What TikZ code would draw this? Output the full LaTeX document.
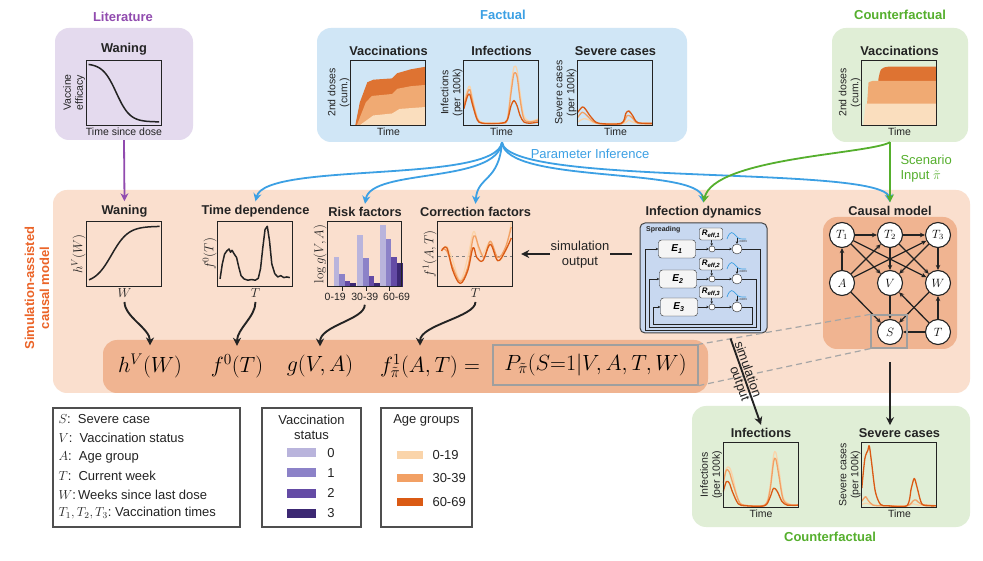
\RequirePackage{fix-cm}
\documentclass[tikz,border=0pt]{standalone}
\usepackage[no-math]{fontspec}
\setmainfont{Liberation Sans}
\usepackage{amsmath}
\usetikzlibrary{arrows.meta,positioning}

\definecolor{inkgray}{RGB}{35,35,35}
\definecolor{litbg}{RGB}{228,218,238}
\definecolor{factbg}{RGB}{208,230,246}
\definecolor{cfbg}{RGB}{224,238,214}
\definecolor{simbg}{RGB}{250,223,206}
\definecolor{simdark}{RGB}{240,180,145}
\definecolor{dynbg}{RGB}{200,216,240}
\definecolor{litcol}{RGB}{145,75,175}
\definecolor{factcol}{RGB}{60,160,228}
\definecolor{cfcol}{RGB}{85,175,45}
\definecolor{simcol}{RGB}{235,100,40}
\definecolor{ageA}{RGB}{250,212,170}
\definecolor{ageB}{RGB}{242,160,100}
\definecolor{ageC}{RGB}{218,90,20}
\definecolor{vacA}{RGB}{185,180,220}
\definecolor{vacB}{RGB}{140,130,200}
\definecolor{vacC}{RGB}{100,75,165}
\definecolor{vacD}{RGB}{60,40,115}
\definecolor{areaA}{RGB}{250,222,190}
\definecolor{areaB}{RGB}{240,170,115}
\definecolor{areaC}{RGB}{222,115,50}

\begin{document}
\begin{tikzpicture}[x=1pt, y=1pt,
  panel/.style={rounded corners=14pt, inner sep=0pt},
  grouplab/.style={font=\bfseries\fontsize{13}{15}\selectfont},
  title/.style={font=\bfseries\fontsize{12.8}{15}\selectfont, text=inkgray},
  axlab/.style={font=\fontsize{10.5}{12}\selectfont, align=center, inner sep=1pt, text=inkgray},
  mathlab/.style={font=\fontsize{13}{15}\selectfont, inner sep=1pt, text=inkgray},
  plotbox/.style={minimum width=75pt, minimum height=65pt, inner sep=0pt},
  plotframe/.style={draw=inkgray, line width=1.2pt},
  curve/.style={line width=1.5pt, line join=round, inkgray},
  ocurve/.style={line width=1.3pt, line join=round},
  term/.style={font=\fontsize{22}{26}\selectfont},
  fan/.style={line width=1.8pt, -{Stealth[length=8pt,width=8pt]}},
  feed/.style={line width=1.9pt, inkgray, -{Stealth[length=8pt,width=8pt]}},
  formarrow/.style={feed, shorten >=5pt, shorten <=3pt},
  cnode/.style={circle, draw=inkgray, fill=white, line width=1.1pt, minimum size=25pt, inner sep=0pt, font=\fontsize{12}{12}\selectfont},
  cedge/.style={line width=1.3pt, inkgray, -{Stealth[length=5pt,width=4.5pt]}},
  legbox/.style={draw=inkgray!80, line width=1.1pt, inner sep=0pt},
  legtext/.style={font=\fontsize{13}{15}\selectfont, text=inkgray},
  swatch/.style={inner sep=0pt},
  ebox/.style={draw=inkgray, fill=gray!8, rounded corners=3pt, minimum width=37pt, minimum height=18pt, inner sep=0pt, font=\bfseries\itshape\fontsize{10}{10}\selectfont},
  rbox/.style={draw=inkgray, fill=gray!8, rounded corners=2pt, minimum width=23pt, minimum height=12pt, inner sep=0pt, font=\bfseries\itshape\fontsize{8}{8}\selectfont},
  mulnode/.style={circle, draw=inkgray, fill=white, minimum size=6pt, inner sep=0pt},
  convnode/.style={circle, draw=inkgray, fill=white, minimum size=10pt, inner sep=0pt},
  flow/.style={line width=0.6pt, inkgray, -{Stealth[length=2.5pt,width=2.5pt]}}]

\useasboundingbox (0,0) rectangle (983,560);
\fill[white] (0,0) rectangle (983,560);

% backgrounds
\node[panel, fill=litbg, minimum width=138pt, minimum height=112pt] (litbox) at (124,476) {};
\node[panel, fill=factbg, minimum width=370pt, minimum height=114pt] (factbox) at (502,475) {};
\node[panel, fill=cfbg, minimum width=136pt, minimum height=114pt] (cfbox) at (900,475) {};
\node[panel, fill=simbg, minimum width=917pt, minimum height=203pt] (simbox) at (511.5,268.5) {};
\node[panel, fill=simdark, minimum width=605pt, minimum height=53pt] (band) at (405.5,193.5) {};
\node[panel, fill=cfbg, minimum width=278pt, minimum height=121pt] (cfbot) at (831,93.5) {};

\node[grouplab, text=litcol] (litlab) at (123,543) {Literature};
\node[grouplab, text=factcol] (factlab) at (503,545) {Factual};
\node[grouplab, text=cfcol] (cflab) at (900,545) {Counterfactual};
\node[grouplab, text=cfcol] (cfbotlab) at (830,23) {Counterfactual};
\node[grouplab, text=simcol, rotate=90, align=center] (simlab) at (37,272) {Simulation-assisted\\causal model};

% literature
\node[plotbox] (litplot) at (124,467.5) {};
\node[title, above=1pt of litplot] (littitle) {Waning};
\node[axlab, below=1pt of litplot] (litx) {Time since dose};
\node[axlab, rotate=90, anchor=south] (lity) at (litplot.west) {Vaccine\\efficacy};
\begin{scope}[shift={(litplot.south west)}, x=75pt, y=65pt]
  \draw[curve] plot[domain=0.03:0.97, samples=40, smooth] (\x,{0.05+0.9/(1+exp(11*(\x-0.4)))});
  \draw[plotframe] (0,0) rectangle (1,1);
\end{scope}

% factual
\node[plotbox] (vacFplot) at (388.5,467.5) {};
\node[title, above=1pt of vacFplot] (vacFtitle) {Vaccinations};
\node[axlab, below=1pt of vacFplot] (vacFx) {Time};
\node[axlab, rotate=90, anchor=south] (vacFy) at (vacFplot.west) {2nd doses\\(cum.)};
\begin{scope}[shift={(vacFplot.south west)}, x=75pt, y=65pt]
  \fill[areaC] (0.06,0) -- (0.12,0.35) -- (0.22,0.66) -- (0.3,0.7) -- (0.55,0.72) -- (0.62,0.8) -- (0.8,0.86) -- (1,0.9) -- (1,0) -- cycle;
  \fill[areaB] (0.08,0) -- (0.2,0.35) -- (0.28,0.45) -- (0.55,0.48) -- (0.62,0.56) -- (0.8,0.6) -- (1,0.62) -- (1,0) -- cycle;
  \fill[areaA] (0.12,0) -- (0.3,0.15) -- (0.55,0.18) -- (0.65,0.25) -- (1,0.28) -- (1,0) -- cycle;
  \draw[plotframe] (0,0) rectangle (1,1);
\end{scope}

\node[plotbox] (infFplot) at (501.5,467.5) {};
\node[title, above=1pt of infFplot] (infFtitle) {Infections};
\node[axlab, below=1pt of infFplot] (infFx) {Time};
\node[axlab, rotate=90, anchor=south] (infFy) at (infFplot.west) {Infections\\(per 100k)};
\begin{scope}[shift={(infFplot.south west)}, x=75pt, y=65pt]
  \draw[ocurve, ageA] plot[smooth, tension=0.5] coordinates {(0,0.35) (0.05,0.55) (0.08,0.6) (0.12,0.4) (0.18,0.12) (0.25,0.04) (0.5,0.04) (0.58,0.1) (0.63,0.6) (0.67,0.9) (0.71,0.85) (0.75,0.5) (0.8,0.15) (0.88,0.06) (1,0.1)};
  \draw[ocurve, ageB] plot[smooth, tension=0.5] coordinates {(0,0.3) (0.05,0.5) (0.08,0.55) (0.12,0.35) (0.18,0.1) (0.25,0.03) (0.5,0.03) (0.58,0.08) (0.63,0.5) (0.67,0.8) (0.71,0.75) (0.75,0.4) (0.8,0.1) (0.88,0.05) (1,0.08)};
  \draw[ocurve, ageC] plot[smooth, tension=0.5] coordinates {(0,0.25) (0.05,0.45) (0.08,0.47) (0.12,0.3) (0.18,0.08) (0.25,0.03) (0.5,0.03) (0.58,0.08) (0.63,0.3) (0.67,0.38) (0.71,0.3) (0.75,0.15) (0.8,0.05) (0.88,0.03) (1,0.05)};
  \draw[plotframe] (0,0) rectangle (1,1);
\end{scope}

\node[plotbox] (sevFplot) at (615.5,467.5) {};
\node[title, above=1pt of sevFplot] (sevFtitle) {Severe cases};
\node[axlab, below=1pt of sevFplot] (sevFx) {Time};
\node[axlab, rotate=90, anchor=south] (sevFy) at (sevFplot.west) {Severe cases\\(per 100k)};
\begin{scope}[shift={(sevFplot.south west)}, x=75pt, y=65pt]
  \draw[ocurve, ageA] plot[smooth, tension=0.5] coordinates {(0,0.05) (0.08,0.1) (0.15,0.08) (0.25,0.03) (0.6,0.03) (0.68,0.08) (0.75,0.04) (1,0.03)};
  \draw[ocurve, ageB] plot[smooth, tension=0.5] coordinates {(0,0.12) (0.06,0.2) (0.12,0.15) (0.2,0.06) (0.3,0.02) (0.58,0.02) (0.66,0.15) (0.72,0.12) (0.8,0.03) (1,0.02)};
  \draw[ocurve, ageC] plot[smooth, tension=0.5] coordinates {(0,0.2) (0.06,0.28) (0.1,0.25) (0.18,0.12) (0.28,0.03) (0.58,0.03) (0.64,0.18) (0.68,0.22) (0.73,0.15) (0.8,0.04) (1,0.03)};
  \draw[plotframe] (0,0) rectangle (1,1);
\end{scope}

% counterfactual input
\node[plotbox] (vacCplot) at (899.5,467.5) {};
\node[title, above=1pt of vacCplot] (vacCtitle) {Vaccinations};
\node[axlab, below=1pt of vacCplot] (vacCx) {Time};
\node[axlab, rotate=90, anchor=south] (vacCy) at (vacCplot.west) {2nd doses\\(cum.)};
\begin{scope}[shift={(vacCplot.south west)}, x=75pt, y=65pt]
  \fill[areaC] (0.2,0) -- (0.22,0.7) .. controls (0.25,0.88) .. (0.35,0.9) -- (1,0.9) -- (1,0) -- cycle;
  \fill[areaB] (0.05,0) -- (0.09,0.66) -- (0.14,0.68) -- (1,0.68) -- (1,0) -- cycle;
  \fill[areaA] (0.02,0) -- (0.05,0.33) -- (1,0.33) -- (1,0) -- cycle;
  \draw[plotframe] (0,0) rectangle (1,1);
\end{scope}

% model panels
\node[plotbox] (waneplot) at (124.5,306) {};
\node[title, above=1pt of waneplot] (wanetitle) {Waning};
\node[mathlab, below=1pt of waneplot] (wlab) {$W$};
\node[mathlab, rotate=90, anchor=south] (waney) at (waneplot.west) {$h^V(W)$};
\begin{scope}[shift={(waneplot.south west)}, x=75pt, y=65pt]
  \draw[curve] plot[domain=0.03:0.97, samples=40, smooth] (\x,{0.05+0.88/(1+exp(-9*(\x-0.33)))});
  \draw[plotframe] (0,0) rectangle (1,1);
\end{scope}

\node[plotbox] (tdplot) at (255.5,306) {};
\node[title, above=1pt of tdplot] (tdtitle) {Time dependence};
\node[mathlab, below=1pt of tdplot] (tlab) {$T$};
\node[mathlab, rotate=90, anchor=south] (tdy) at (tdplot.west) {$f^0(T)$};
\begin{scope}[shift={(tdplot.south west)}, x=75pt, y=65pt]
  \draw[curve] plot coordinates {(0.03,0.12) (0.06,0.35) (0.09,0.5) (0.12,0.55) (0.15,0.58) (0.17,0.53) (0.19,0.56) (0.22,0.5) (0.25,0.45) (0.28,0.3) (0.31,0.17) (0.35,0.12) (0.4,0.1) (0.45,0.11) (0.5,0.1) (0.54,0.13) (0.57,0.28) (0.6,0.6) (0.63,0.88) (0.66,0.93) (0.69,0.7) (0.72,0.35) (0.76,0.2) (0.8,0.15) (0.84,0.17) (0.88,0.14) (0.92,0.15) (0.96,0.14)};
  \draw[plotframe] (0,0) rectangle (1,1);
\end{scope}

\node[plotbox, minimum width=74pt] (riskplot) at (365,306) {};
\node[title, above=1pt of riskplot] (risktitle) {Risk factors};
\node[mathlab, rotate=90, anchor=south] (risky) at (riskplot.west) {$\log g(V,A)$};
\begin{scope}[shift={(riskplot.south west)}, x=74pt, y=65pt]
  \foreach \gx/\ha/\hb/\hc/\hd in {0.08/0.46/0.2/0.09/0.05, 0.40/0.79/0.44/0.16/0.05, 0.71/0.95/0.74/0.46/0.36}{
    \fill[vacA] (\gx,0) rectangle ++(0.075,\ha);
    \fill[vacB] ({\gx+0.075},0) rectangle ++(0.075,\hb);
    \fill[vacC] ({\gx+0.15},0) rectangle ++(0.075,\hc);
    \fill[vacD] ({\gx+0.225},0) rectangle ++(0.075,\hd);
    \draw[inkgray, line width=1pt] ({\gx+0.12},0) -- ({\gx+0.12},-0.07);
  }
  \draw[plotframe] (0,0) rectangle (1,1);
  \node[axlab, below] (tick1) at (0.1,-0.08) {0-19};
  \node[axlab, below] (tick2) at (0.5,-0.08) {30-39};
  \node[axlab, below] (tick3) at (0.93,-0.08) {60-69};
\end{scope}

\node[plotbox] (corrplot) at (475.5,306) {};
\node[title, above=1pt of corrplot] (corrtitle) {Correction factors};
\node[mathlab, below=1pt of corrplot] (tclab) {$T$};
\node[mathlab, rotate=90, anchor=south] (corry) at (corrplot.west) {$f^1(A,T)$};
\begin{scope}[shift={(corrplot.south west)}, x=75pt, y=65pt]
  \draw[gray, line width=1pt, dashed] (0,0.46) -- (1,0.46);
  \draw[ocurve, ageA] plot[smooth, tension=0.6] coordinates {(0.05,0.55) (0.12,0.62) (0.2,0.4) (0.3,0.1) (0.4,0.45) (0.48,0.85) (0.55,0.55) (0.6,0.5) (0.7,0.68) (0.8,0.4) (0.9,0.55) (0.98,1)};
  \draw[ocurve, ageB] plot[smooth, tension=0.6] coordinates {(0.05,0.58) (0.12,0.55) (0.2,0.3) (0.3,0.08) (0.4,0.3) (0.48,0.78) (0.55,0.6) (0.62,0.45) (0.7,0.7) (0.8,0.45) (0.9,0.6) (0.98,0.92)};
  \draw[ocurve, ageC] plot[smooth, tension=0.6] coordinates {(0.05,0.55) (0.12,0.6) (0.2,0.25) (0.3,0.05) (0.4,0.25) (0.47,0.6) (0.52,0.45) (0.6,0.4) (0.7,0.65) (0.8,0.4) (0.9,0.55) (0.98,0.75)};
  \draw[plotframe] (0,0) rectangle (1,1);
\end{scope}

% infection dynamics
\node[draw=inkgray!85, line width=1pt, fill=dynbg, rounded corners=5pt, minimum width=127pt, minimum height=110pt] (dyn) at (703.5,282) {};
\node[title, above=1pt of dyn] (dyntitle) {Infection dynamics};
\node[font=\bfseries\fontsize{7}{8}\selectfont, text=inkgray, anchor=north west, inner sep=1pt] (spread) at (645,335) {Spreading};
\foreach \i/\ey in {1/311, 2/281, 3/253}{
  \node[ebox] (E\i) at ({676+\i},\ey) {E\textsubscript{\i}};
  \node[rbox] (R\i) at (711,{\ey+15}) {R\textsubscript{eff,\i}};
  \node[mulnode] (M\i) at (712,\ey) {};
  \node[convnode] (C\i) at (737,\ey) {};
  \node[font=\fontsize{3.5}{4}\selectfont, text=inkgray, anchor=west, inner sep=0.5pt] (cv\i) at (739,{\ey+7}) {conv};
  \draw[factcol, line width=0.7pt] (727,{\ey+10}) .. controls (730,{\ey+19}) and (733,{\ey+17}) .. (736,{\ey+13}) .. controls (739,{\ey+10}) .. (746,{\ey+10});
  \draw[flow] (E\i) -- (M\i);
  \draw[flow] (R\i) -- (M\i);
  \draw[flow] (M\i) -- (C\i);
  \draw[flow] ([yshift=6pt]C\i.north) -- (C\i.north);
  \draw[flow] (C\i.east) -- ({764-4*\i},\ey) -- ({764-4*\i},{227+3*\i}) -- ({641+4*\i},{227+3*\i}) -- ({641+4*\i},\ey) -- (E\i.west);
}

% causal model
\node[panel, fill=simdark, minimum width=134pt, minimum height=132pt] (causal) at (890,277) {};
\node[title, above=-2pt of causal] (causaltitle) {Causal model};
\node[cnode] (T1) at (842,325) {$T_1$};
\node[cnode] (T2) at (890,325) {$T_2$};
\node[cnode] (T3) at (938,325) {$T_3$};
\node[cnode] (A) at (842,277) {$A$};
\node[cnode] (V) at (890,277) {$V$};
\node[cnode] (W) at (938,277) {$W$};
\node[cnode] (S) at (890,228) {$S$};
\node[cnode] (T) at (938,228) {$T$};
\foreach \a/\b in {T1/T2, T2/T3, A/T1, A/T2, A/T3, T1/V, T1/W, T2/V, T2/W, T3/W, T3/V, A/S, V/S, W/S, T/S, T/W, T/V}
  \draw[cedge] (\a) -- (\b);
\node[draw=gray!75, line width=1.3pt, minimum width=36pt, minimum height=33pt, inner sep=0pt] (sbox) at (889,228.5) {};

% formula
\node[term] (hV) at (150,194) {$h^V(W)$};
\node[term] (f0) at (237,194) {$f^0(T)$};
\node[term] (gVA) at (320,194) {$g(V,A)$};
\node[term] (f1) at (430,194) {$f^1_{\tilde{\pi}}(A,T) =$};
\node[term, draw=gray!75, line width=1.3pt, minimum width=205pt, minimum height=40pt] (Pbox) at (595.5,195) {$P_{\tilde{\pi}}(S{=}1|V,A,T,W)$};
\draw[gray!70, line width=1.2pt, dash pattern=on 6pt off 4pt] (sbox.north west) -- (Pbox.north east);
\draw[gray!70, line width=1.2pt, dash pattern=on 6pt off 4pt] (sbox.south west) -- (Pbox.south east);

\draw[formarrow] (wlab.south) .. controls +(0,-18) and +(0,22) .. (hV.north);
\draw[formarrow] (tlab.south) .. controls +(0,-18) and +(0,22) .. (f0.north);
\draw[formarrow] (tick2.south) .. controls +(0,-18) and +(0,26) .. (gVA.north);
\draw[formarrow] (tclab.south) .. controls +(0,-18) and +(0,26) .. ([xshift=-10pt]f1.north);

% inputs
\draw[line width=1.8pt, litcol, -{Stealth[length=8pt,width=8pt]}] (litbox.south) -- (wanetitle.north);
\coordinate (hub) at (factbox.south);
\draw[fan, factcol] (hub) .. controls +(-6,-42) and +(10,40) .. (tdtitle.north);
\draw[fan, factcol] (hub) .. controls +(-5,-42) and +(6,36) .. (risktitle.north);
\draw[fan, factcol] (hub) .. controls +(-3,-40) and +(2,28) .. (corrtitle.north);
\draw[fan, factcol] (hub) .. controls +(3,-42) and +(-5,36) .. (dyntitle.north);
\draw[fan, factcol] (hub) .. controls +(5,-45) and +(-6,38) .. (causaltitle.north);
\node[legtext, text=factcol] (pilab) at (590,406) {Parameter Inference};

\coordinate (cfhub) at (causaltitle.north |- cfbox.south);
\draw[fan, cfcol] (cfhub) -- (causaltitle.north);
\draw[fan, cfcol] (cfhub) .. controls +(-20,-12) and +(10,45) .. (dyntitle.north);
\node[legtext, text=cfcol, align=left, anchor=west] (scen) at (897,391) {Scenario\\Input $\tilde{\pi}$};

\draw[feed, shorten >=8pt] ([xshift=-8pt]dyn.west |- corrplot.east) -- (corrplot.east);
\node[legtext, fill=simbg, align=center, inner sep=1pt] (simout) at (580,305.5) {simulation\\output};

% counterfactual output
\node[plotbox] (infCplot) at (761,85) {};
\node[title, above=1pt of infCplot] (infCtitle) {Infections};
\node[axlab, below=1pt of infCplot] (infCx) {Time};
\node[axlab, rotate=90, anchor=south] (infCy) at (infCplot.west) {Infections\\(per 100k)};
\begin{scope}[shift={(infCplot.south west)}, x=75pt, y=65pt]
  \draw[ocurve, ageA] plot[smooth, tension=0.5] coordinates {(0,0.4) (0.04,0.6) (0.08,0.62) (0.12,0.5) (0.18,0.2) (0.25,0.05) (0.55,0.04) (0.62,0.3) (0.67,0.8) (0.7,0.85) (0.74,0.6) (0.8,0.15) (0.9,0.05) (1,0.05)};
  \draw[ocurve, ageB] plot[smooth, tension=0.5] coordinates {(0,0.38) (0.04,0.58) (0.08,0.55) (0.12,0.4) (0.2,0.12) (0.27,0.04) (0.55,0.04) (0.62,0.25) (0.67,0.7) (0.7,0.75) (0.74,0.5) (0.8,0.12) (0.9,0.04) (1,0.04)};
  \draw[ocurve, ageC] plot[smooth, tension=0.5] coordinates {(0,0.25) (0.04,0.4) (0.08,0.38) (0.12,0.25) (0.2,0.06) (0.3,0.03) (0.55,0.03) (0.62,0.15) (0.67,0.3) (0.72,0.25) (0.78,0.1) (0.85,0.04) (1,0.04)};
  \draw[plotframe] (0,0) rectangle (1,1);
\end{scope}

\node[plotbox] (sevCplot) at (899.5,85) {};
\node[title, above=1pt of sevCplot] (sevCtitle) {Severe cases};
\node[axlab, below=1pt of sevCplot] (sevCx) {Time};
\node[axlab, rotate=90, anchor=south] (sevCy) at (sevCplot.west) {Severe cases\\(per 100k)};
\begin{scope}[shift={(sevCplot.south west)}, x=75pt, y=65pt]
  \draw[ocurve, ageA] plot[smooth, tension=0.5] coordinates {(0,0.05) (0.06,0.07) (0.15,0.04) (0.3,0.03) (0.6,0.03) (0.68,0.06) (0.75,0.04) (1,0.03)};
  \draw[ocurve, ageB] plot[smooth, tension=0.5] coordinates {(0,0.1) (0.05,0.17) (0.08,0.12) (0.15,0.04) (0.3,0.03) (0.6,0.03) (0.68,0.1) (0.72,0.12) (0.8,0.05) (1,0.03)};
  \draw[ocurve, ageC] plot[smooth, tension=0.5] coordinates {(0,0.3) (0.04,0.75) (0.08,0.88) (0.1,0.95) (0.13,0.7) (0.18,0.25) (0.25,0.05) (0.35,0.03) (0.6,0.03) (0.66,0.3) (0.7,0.45) (0.74,0.3) (0.8,0.06) (0.9,0.03) (1,0.03)};
  \draw[plotframe] (0,0) rectangle (1,1);
\end{scope}

\draw[feed] ([yshift=-13pt]causal.south) -- (causal.south |- sevCtitle.north);
\draw[feed] ([xshift=27pt,yshift=-5pt]dyn.south) -- (infCtitle.north)
  node[pos=0.38, sloped, above, legtext, inner sep=1pt] (simdiag) {simulation}
  node[pos=0.5, sloped, below, legtext, inner sep=1pt] (outdiag) {output};

% legends
\node[legbox, minimum width=187pt, minimum height=119pt] (symleg) at (146.5,92.5) {};
\node[legtext, anchor=west] (leg1) at (55,141) {$S$:\ \ Severe case};
\node[legtext, anchor=west] (leg2) at (55,122) {$V$:\ \ Vaccination status};
\node[legtext, anchor=west] (leg3) at (55,103) {$A$:\ \ Age group};
\node[legtext, anchor=west] (leg4) at (55,84) {$T$:\ \ Current week};
\node[legtext, anchor=west] (leg5) at (55,65) {$W$:\,Weeks since last dose};
\node[legtext, anchor=west] (leg6) at (55,47) {$T_1,T_2,T_3$:\ Vaccination times};

\node[legbox, minimum width=99pt, minimum height=119pt] (vacleg) at (311.5,92.5) {};
\node[legtext, align=center] (vactit) at (311.5,132.5) {Vaccination\\status};
\foreach \c/\n/\ey in {vacA/0/107, vacB/1/87, vacC/2/67, vacD/3/47}{
  \node[swatch, fill=\c, minimum width=29pt, minimum height=9pt] (vs\n) at (301.5,\ey) {};
  \node[legtext] (vn\n) at (331,\ey) {\n};
}

\node[legbox, minimum width=91pt, minimum height=119pt] (ageleg) at (426.5,92.5) {};
\node[legtext] (agetit) at (426.5,140) {Age groups};
\foreach \c/\n/\ey in {ageA/0-19/105, ageB/30-39/82, ageC/60-69/58}{
  \node[swatch, fill=\c, minimum width=26pt, minimum height=8pt] (as\n) at (410,\ey) {};
  \node[legtext, anchor=west] (an\n) at (429,\ey) {\n};
}

\end{tikzpicture}
\end{document}
